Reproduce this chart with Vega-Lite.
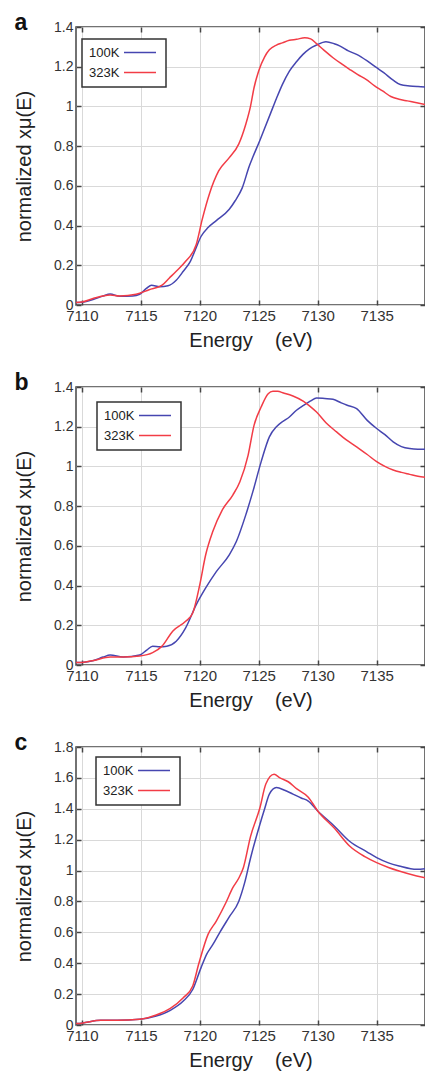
{
  "$schema": "https://vega.github.io/schema/vega-lite/v6.json",
  "background": "white",
  "padding": {"left": 13, "top": 11, "right": 0, "bottom": 0},
  "spacing": 82,
  "bounds": "flush",
  "resolve": {"legend": {"color": "independent"}, "scale": {"color": "independent"}},
  "datasets": {
    "a": [
      {"E": 7109.5, "v": 0.012, "s": "100K"}, {"E": 7110, "v": 0.014, "s": "100K"}, {"E": 7111, "v": 0.029, "s": "100K"}, {"E": 7111.8, "v": 0.045, "s": "100K"}, {"E": 7112.4, "v": 0.055, "s": "100K"}, {"E": 7113.2, "v": 0.044, "s": "100K"}, {"E": 7114.3, "v": 0.045, "s": "100K"}, {"E": 7114.9, "v": 0.054, "s": "100K"}, {"E": 7115.5, "v": 0.085, "s": "100K"}, {"E": 7115.9, "v": 0.1, "s": "100K"}, {"E": 7116.6, "v": 0.092, "s": "100K"}, {"E": 7117.3, "v": 0.097, "s": "100K"}, {"E": 7118.0, "v": 0.125, "s": "100K"}, {"E": 7118.6, "v": 0.17, "s": "100K"}, {"E": 7119.2, "v": 0.22, "s": "100K"}, {"E": 7119.7, "v": 0.29, "s": "100K"}, {"E": 7120.1, "v": 0.345, "s": "100K"}, {"E": 7120.7, "v": 0.39, "s": "100K"}, {"E": 7121.4, "v": 0.425, "s": "100K"}, {"E": 7122.5, "v": 0.482, "s": "100K"}, {"E": 7123.0, "v": 0.525, "s": "100K"}, {"E": 7123.6, "v": 0.59, "s": "100K"}, {"E": 7124.2, "v": 0.7, "s": "100K"}, {"E": 7124.5, "v": 0.745, "s": "100K"}, {"E": 7125.1, "v": 0.83, "s": "100K"}, {"E": 7125.4, "v": 0.875, "s": "100K"}, {"E": 7126.0, "v": 0.965, "s": "100K"}, {"E": 7126.5, "v": 1.04, "s": "100K"}, {"E": 7127.0, "v": 1.11, "s": "100K"}, {"E": 7127.6, "v": 1.178, "s": "100K"}, {"E": 7128.2, "v": 1.225, "s": "100K"}, {"E": 7128.75, "v": 1.262, "s": "100K"}, {"E": 7129.3, "v": 1.29, "s": "100K"}, {"E": 7129.9, "v": 1.309, "s": "100K"}, {"E": 7130.7, "v": 1.326, "s": "100K"}, {"E": 7131.4, "v": 1.316, "s": "100K"}, {"E": 7131.9, "v": 1.304, "s": "100K"}, {"E": 7132.6, "v": 1.28, "s": "100K"}, {"E": 7133.3, "v": 1.262, "s": "100K"}, {"E": 7134.2, "v": 1.229, "s": "100K"}, {"E": 7135.0, "v": 1.195, "s": "100K"}, {"E": 7135.6, "v": 1.17, "s": "100K"}, {"E": 7136.4, "v": 1.132, "s": "100K"}, {"E": 7137.0, "v": 1.11, "s": "100K"}, {"E": 7137.8, "v": 1.103, "s": "100K"}, {"E": 7138.5, "v": 1.1, "s": "100K"}, {"E": 7139.3, "v": 1.098, "s": "100K"},
      {"E": 7109.5, "v": 0.012, "s": "323K"}, {"E": 7110, "v": 0.015, "s": "323K"}, {"E": 7111, "v": 0.034, "s": "323K"}, {"E": 7112.4, "v": 0.05, "s": "323K"}, {"E": 7113.2, "v": 0.045, "s": "323K"}, {"E": 7114.6, "v": 0.054, "s": "323K"}, {"E": 7115.7, "v": 0.077, "s": "323K"}, {"E": 7116.8, "v": 0.1, "s": "323K"}, {"E": 7117.4, "v": 0.135, "s": "323K"}, {"E": 7118.0, "v": 0.17, "s": "323K"}, {"E": 7118.8, "v": 0.22, "s": "323K"}, {"E": 7119.7, "v": 0.305, "s": "323K"}, {"E": 7120.2, "v": 0.43, "s": "323K"}, {"E": 7120.8, "v": 0.557, "s": "323K"}, {"E": 7121.6, "v": 0.675, "s": "323K"}, {"E": 7122.5, "v": 0.742, "s": "323K"}, {"E": 7123.3, "v": 0.81, "s": "323K"}, {"E": 7123.9, "v": 0.91, "s": "323K"}, {"E": 7124.3, "v": 1.0, "s": "323K"}, {"E": 7124.6, "v": 1.094, "s": "323K"}, {"E": 7125.0, "v": 1.18, "s": "323K"}, {"E": 7125.5, "v": 1.25, "s": "323K"}, {"E": 7125.9, "v": 1.285, "s": "323K"}, {"E": 7126.5, "v": 1.309, "s": "323K"}, {"E": 7127.0, "v": 1.32, "s": "323K"}, {"E": 7127.6, "v": 1.333, "s": "323K"}, {"E": 7128.2, "v": 1.338, "s": "323K"}, {"E": 7128.9, "v": 1.346, "s": "323K"}, {"E": 7129.4, "v": 1.34, "s": "323K"}, {"E": 7129.9, "v": 1.316, "s": "323K"}, {"E": 7130.5, "v": 1.285, "s": "323K"}, {"E": 7131.3, "v": 1.245, "s": "323K"}, {"E": 7132.0, "v": 1.215, "s": "323K"}, {"E": 7132.7, "v": 1.187, "s": "323K"}, {"E": 7133.4, "v": 1.16, "s": "323K"}, {"E": 7134.1, "v": 1.136, "s": "323K"}, {"E": 7134.8, "v": 1.105, "s": "323K"}, {"E": 7135.5, "v": 1.078, "s": "323K"}, {"E": 7136.2, "v": 1.05, "s": "323K"}, {"E": 7136.9, "v": 1.036, "s": "323K"}, {"E": 7137.6, "v": 1.028, "s": "323K"}, {"E": 7138.4, "v": 1.019, "s": "323K"}, {"E": 7139.3, "v": 1.007, "s": "323K"}
    ],
    "b": [
      {"E": 7109.5, "v": 0.012, "s": "100K"}, {"E": 7110, "v": 0.013, "s": "100K"}, {"E": 7111, "v": 0.023, "s": "100K"}, {"E": 7111.8, "v": 0.04, "s": "100K"}, {"E": 7112.4, "v": 0.05, "s": "100K"}, {"E": 7113.5, "v": 0.04, "s": "100K"}, {"E": 7114.9, "v": 0.05, "s": "100K"}, {"E": 7115.5, "v": 0.075, "s": "100K"}, {"E": 7116.0, "v": 0.095, "s": "100K"}, {"E": 7116.6, "v": 0.092, "s": "100K"}, {"E": 7117.2, "v": 0.095, "s": "100K"}, {"E": 7118.0, "v": 0.12, "s": "100K"}, {"E": 7118.8, "v": 0.187, "s": "100K"}, {"E": 7119.7, "v": 0.304, "s": "100K"}, {"E": 7120.5, "v": 0.388, "s": "100K"}, {"E": 7121.4, "v": 0.47, "s": "100K"}, {"E": 7122.5, "v": 0.555, "s": "100K"}, {"E": 7123.1, "v": 0.622, "s": "100K"}, {"E": 7123.9, "v": 0.756, "s": "100K"}, {"E": 7124.5, "v": 0.873, "s": "100K"}, {"E": 7125.2, "v": 1.023, "s": "100K"}, {"E": 7125.9, "v": 1.149, "s": "100K"}, {"E": 7126.5, "v": 1.2, "s": "100K"}, {"E": 7127.0, "v": 1.225, "s": "100K"}, {"E": 7127.6, "v": 1.249, "s": "100K"}, {"E": 7128.2, "v": 1.283, "s": "100K"}, {"E": 7128.8, "v": 1.308, "s": "100K"}, {"E": 7129.4, "v": 1.33, "s": "100K"}, {"E": 7129.9, "v": 1.345, "s": "100K"}, {"E": 7130.6, "v": 1.342, "s": "100K"}, {"E": 7131.3, "v": 1.338, "s": "100K"}, {"E": 7132.0, "v": 1.32, "s": "100K"}, {"E": 7132.5, "v": 1.308, "s": "100K"}, {"E": 7133.3, "v": 1.291, "s": "100K"}, {"E": 7134.2, "v": 1.232, "s": "100K"}, {"E": 7135.0, "v": 1.191, "s": "100K"}, {"E": 7135.7, "v": 1.16, "s": "100K"}, {"E": 7136.4, "v": 1.124, "s": "100K"}, {"E": 7137.1, "v": 1.1, "s": "100K"}, {"E": 7137.8, "v": 1.09, "s": "100K"}, {"E": 7138.5, "v": 1.087, "s": "100K"}, {"E": 7139.3, "v": 1.087, "s": "100K"},
      {"E": 7109.5, "v": 0.012, "s": "323K"}, {"E": 7110, "v": 0.013, "s": "323K"}, {"E": 7111, "v": 0.023, "s": "323K"}, {"E": 7112.4, "v": 0.04, "s": "323K"}, {"E": 7113.5, "v": 0.04, "s": "323K"}, {"E": 7114.9, "v": 0.045, "s": "323K"}, {"E": 7116.0, "v": 0.062, "s": "323K"}, {"E": 7116.8, "v": 0.095, "s": "323K"}, {"E": 7117.7, "v": 0.17, "s": "323K"}, {"E": 7118.8, "v": 0.22, "s": "323K"}, {"E": 7119.4, "v": 0.262, "s": "323K"}, {"E": 7120.0, "v": 0.405, "s": "323K"}, {"E": 7120.5, "v": 0.555, "s": "323K"}, {"E": 7121.1, "v": 0.672, "s": "323K"}, {"E": 7121.9, "v": 0.78, "s": "323K"}, {"E": 7122.8, "v": 0.856, "s": "323K"}, {"E": 7123.4, "v": 0.923, "s": "323K"}, {"E": 7124.1, "v": 1.057, "s": "323K"}, {"E": 7124.6, "v": 1.207, "s": "323K"}, {"E": 7125.2, "v": 1.299, "s": "323K"}, {"E": 7125.8, "v": 1.366, "s": "323K"}, {"E": 7126.2, "v": 1.378, "s": "323K"}, {"E": 7126.6, "v": 1.378, "s": "323K"}, {"E": 7127.1, "v": 1.37, "s": "323K"}, {"E": 7127.9, "v": 1.355, "s": "323K"}, {"E": 7128.8, "v": 1.328, "s": "323K"}, {"E": 7129.4, "v": 1.3, "s": "323K"}, {"E": 7129.9, "v": 1.274, "s": "323K"}, {"E": 7130.7, "v": 1.22, "s": "323K"}, {"E": 7131.6, "v": 1.174, "s": "323K"}, {"E": 7132.4, "v": 1.135, "s": "323K"}, {"E": 7133.3, "v": 1.099, "s": "323K"}, {"E": 7134.2, "v": 1.06, "s": "323K"}, {"E": 7135.0, "v": 1.024, "s": "323K"}, {"E": 7135.7, "v": 1.0, "s": "323K"}, {"E": 7136.4, "v": 0.982, "s": "323K"}, {"E": 7137.1, "v": 0.97, "s": "323K"}, {"E": 7137.8, "v": 0.96, "s": "323K"}, {"E": 7138.5, "v": 0.95, "s": "323K"}, {"E": 7139.3, "v": 0.945, "s": "323K"}
    ],
    "c": [
      {"E": 7109.5, "v": 0.009, "s": "100K"}, {"E": 7110, "v": 0.012, "s": "100K"}, {"E": 7111.6, "v": 0.03, "s": "100K"}, {"E": 7113.0, "v": 0.03, "s": "100K"}, {"E": 7114.9, "v": 0.037, "s": "100K"}, {"E": 7116.3, "v": 0.058, "s": "100K"}, {"E": 7117.5, "v": 0.095, "s": "100K"}, {"E": 7118.6, "v": 0.155, "s": "100K"}, {"E": 7119.4, "v": 0.23, "s": "100K"}, {"E": 7120.1, "v": 0.37, "s": "100K"}, {"E": 7120.6, "v": 0.46, "s": "100K"}, {"E": 7121.1, "v": 0.52, "s": "100K"}, {"E": 7121.7, "v": 0.6, "s": "100K"}, {"E": 7122.5, "v": 0.7, "s": "100K"}, {"E": 7123.3, "v": 0.8, "s": "100K"}, {"E": 7123.8, "v": 0.92, "s": "100K"}, {"E": 7124.3, "v": 1.08, "s": "100K"}, {"E": 7125.1, "v": 1.3, "s": "100K"}, {"E": 7125.5, "v": 1.4, "s": "100K"}, {"E": 7125.9, "v": 1.495, "s": "100K"}, {"E": 7126.5, "v": 1.537, "s": "100K"}, {"E": 7127.2, "v": 1.52, "s": "100K"}, {"E": 7127.9, "v": 1.495, "s": "100K"}, {"E": 7128.6, "v": 1.47, "s": "100K"}, {"E": 7129.2, "v": 1.45, "s": "100K"}, {"E": 7130.0, "v": 1.386, "s": "100K"}, {"E": 7131.4, "v": 1.289, "s": "100K"}, {"E": 7132.7, "v": 1.19, "s": "100K"}, {"E": 7134.2, "v": 1.12, "s": "100K"}, {"E": 7135.0, "v": 1.084, "s": "100K"}, {"E": 7136.0, "v": 1.05, "s": "100K"}, {"E": 7136.9, "v": 1.03, "s": "100K"}, {"E": 7138.4, "v": 1.008, "s": "100K"}, {"E": 7139.3, "v": 1.014, "s": "100K"},
      {"E": 7109.5, "v": 0.009, "s": "323K"}, {"E": 7110, "v": 0.012, "s": "323K"}, {"E": 7111.6, "v": 0.03, "s": "323K"}, {"E": 7113.0, "v": 0.03, "s": "323K"}, {"E": 7114.9, "v": 0.037, "s": "323K"}, {"E": 7116.3, "v": 0.065, "s": "323K"}, {"E": 7117.5, "v": 0.108, "s": "323K"}, {"E": 7118.6, "v": 0.177, "s": "323K"}, {"E": 7119.4, "v": 0.253, "s": "323K"}, {"E": 7119.9, "v": 0.393, "s": "323K"}, {"E": 7120.7, "v": 0.587, "s": "323K"}, {"E": 7121.4, "v": 0.673, "s": "323K"}, {"E": 7122.2, "v": 0.79, "s": "323K"}, {"E": 7122.8, "v": 0.889, "s": "323K"}, {"E": 7123.3, "v": 0.95, "s": "323K"}, {"E": 7123.7, "v": 1.02, "s": "323K"}, {"E": 7124.3, "v": 1.22, "s": "323K"}, {"E": 7125.1, "v": 1.407, "s": "323K"}, {"E": 7125.6, "v": 1.56, "s": "323K"}, {"E": 7126.3, "v": 1.623, "s": "323K"}, {"E": 7126.8, "v": 1.6, "s": "323K"}, {"E": 7127.5, "v": 1.575, "s": "323K"}, {"E": 7128.2, "v": 1.53, "s": "323K"}, {"E": 7129.2, "v": 1.475, "s": "323K"}, {"E": 7130.0, "v": 1.386, "s": "323K"}, {"E": 7131.4, "v": 1.275, "s": "323K"}, {"E": 7132.7, "v": 1.159, "s": "323K"}, {"E": 7134.0, "v": 1.09, "s": "323K"}, {"E": 7135.0, "v": 1.051, "s": "323K"}, {"E": 7136.0, "v": 1.02, "s": "323K"}, {"E": 7136.9, "v": 0.997, "s": "323K"}, {"E": 7138.4, "v": 0.965, "s": "323K"}, {"E": 7139.3, "v": 0.95, "s": "323K"}
    ]
  },
  "vconcat": [
    {
      "title": {"text": "a"},
      "width": 349, "height": 278,
      "data": {"name": "a"},
      "layer": [
        {
          "mark": {"type": "line", "strokeWidth": 1.5, "interpolate": "monotone"},
          "encoding": {
            "x": {"field": "E", "type": "quantitative", "scale": {"domain": [7109.5, 7139.1], "nice": false, "zero": false}, "axis": {"values": [7110, 7115, 7120, 7125, 7130, 7135], "format": "d", "title": "Energy\u00a0\u00a0\u00a0\u00a0(eV)"}},
            "y": {"field": "v", "type": "quantitative", "scale": {"domain": [0, 1.4], "nice": false}, "axis": {"values": [0, 0.2, 0.4, 0.6, 0.8, 1, 1.2, 1.4], "format": "~g", "title": "normalized xμ(E)"}},
            "color": {"field": "s", "type": "nominal", "scale": {"domain": ["100K", "323K"], "range": ["#4646b0", "#f23c46"]}, "legend": {"orient": "none", "legendX": 6, "legendY": 12}}
          }
        },
        {
          "mark": {"type": "line", "strokeOpacity": 0},
          "encoding": {
            "x": {"field": "E", "type": "quantitative", "scale": {"domain": [7109.5, 7139.1], "nice": false, "zero": false}, "axis": {"orient": "top", "values": [7110, 7115, 7120, 7125, 7130, 7135], "labels": false, "grid": false, "title": null}},
            "y": {"field": "v", "type": "quantitative", "scale": {"domain": [0, 1.4], "nice": false}, "axis": {"orient": "right", "values": [0, 0.2, 0.4, 0.6, 0.8, 1, 1.2, 1.4], "labels": false, "grid": false, "title": null}},
            "detail": {"field": "s"}
          }
        }
      ],
      "resolve": {"axis": {"x": "independent", "y": "independent"}}
    },
    {
      "title": {"text": "b"},
      "width": 349, "height": 278,
      "data": {"name": "b"},
      "layer": [
        {
          "mark": {"type": "line", "strokeWidth": 1.5, "interpolate": "monotone"},
          "encoding": {
            "x": {"field": "E", "type": "quantitative", "scale": {"domain": [7109.5, 7139.1], "nice": false, "zero": false}, "axis": {"values": [7110, 7115, 7120, 7125, 7130, 7135], "format": "d", "title": "Energy\u00a0\u00a0\u00a0\u00a0(eV)"}},
            "y": {"field": "v", "type": "quantitative", "scale": {"domain": [0, 1.4], "nice": false}, "axis": {"values": [0, 0.2, 0.4, 0.6, 0.8, 1, 1.2, 1.4], "format": "~g", "title": "normalized xμ(E)"}},
            "color": {"field": "s", "type": "nominal", "scale": {"domain": ["100K", "323K"], "range": ["#4646b0", "#f23c46"]}, "legend": {"orient": "none", "legendX": 21, "legendY": 15}}
          }
        },
        {
          "mark": {"type": "line", "strokeOpacity": 0},
          "encoding": {
            "x": {"field": "E", "type": "quantitative", "scale": {"domain": [7109.5, 7139.1], "nice": false, "zero": false}, "axis": {"orient": "top", "values": [7110, 7115, 7120, 7125, 7130, 7135], "labels": false, "grid": false, "title": null}},
            "y": {"field": "v", "type": "quantitative", "scale": {"domain": [0, 1.4], "nice": false}, "axis": {"orient": "right", "values": [0, 0.2, 0.4, 0.6, 0.8, 1, 1.2, 1.4], "labels": false, "grid": false, "title": null}},
            "detail": {"field": "s"}
          }
        }
      ],
      "resolve": {"axis": {"x": "independent", "y": "independent"}}
    },
    {
      "title": {"text": "c"},
      "width": 349, "height": 278,
      "data": {"name": "c"},
      "layer": [
        {
          "mark": {"type": "line", "strokeWidth": 1.5, "interpolate": "monotone"},
          "encoding": {
            "x": {"field": "E", "type": "quantitative", "scale": {"domain": [7109.5, 7139.1], "nice": false, "zero": false}, "axis": {"values": [7110, 7115, 7120, 7125, 7130, 7135], "format": "d", "title": "Energy\u00a0\u00a0\u00a0\u00a0(eV)"}},
            "y": {"field": "v", "type": "quantitative", "scale": {"domain": [0, 1.8], "nice": false}, "axis": {"values": [0, 0.2, 0.4, 0.6, 0.8, 1, 1.2, 1.4, 1.6, 1.8], "format": "~g", "title": "normalized xμ(E)"}},
            "color": {"field": "s", "type": "nominal", "scale": {"domain": ["100K", "323K"], "range": ["#4646b0", "#f23c46"]}, "legend": {"orient": "none", "legendX": 20, "legendY": 10}}
          }
        },
        {
          "mark": {"type": "line", "strokeOpacity": 0},
          "encoding": {
            "x": {"field": "E", "type": "quantitative", "scale": {"domain": [7109.5, 7139.1], "nice": false, "zero": false}, "axis": {"orient": "top", "values": [7110, 7115, 7120, 7125, 7130, 7135], "labels": false, "grid": false, "title": null}},
            "y": {"field": "v", "type": "quantitative", "scale": {"domain": [0, 1.8], "nice": false}, "axis": {"orient": "right", "values": [0, 0.2, 0.4, 0.6, 0.8, 1, 1.2, 1.4, 1.6, 1.8], "labels": false, "grid": false, "title": null}},
            "detail": {"field": "s"}
          }
        }
      ],
      "resolve": {"axis": {"x": "independent", "y": "independent"}}
    }
  ],
  "config": {
    "view": {"stroke": "#444444", "strokeWidth": 1.5},
    "title": {"anchor": "start", "frame": "bounds", "font": "Liberation Sans", "fontSize": 23, "fontWeight": "bold", "color": "#111111", "offset": -15},
    "axis": {"labelFont": "Liberation Sans", "titleFont": "Liberation Sans", "titleFontSize": 20, "titleFontWeight": "normal", "labelColor": "#333333", "titleColor": "#222222", "gridColor": "#d9d9d9", "gridWidth": 1, "tickColor": "#444444", "tickSize": -5, "tickWidth": 1.5, "domain": false, "labelPadding": 8},
    "axisX": {"titlePadding": 7, "labelFontSize": 15},
    "axisY": {"titlePadding": 19, "labelFontSize": 14},
    "legend": {"title": null, "fillColor": "white", "strokeColor": "#333333", "strokeWidth": 1.5, "padding": 7, "labelFont": "Liberation Sans", "labelFontSize": 13, "labelColor": "#222222", "symbolType": "M28.5,0H60.5", "symbolSize": 4, "symbolStrokeWidth": 1.5, "symbolOffset": 0, "labelOffset": -13, "rowPadding": 6}
  }
}
